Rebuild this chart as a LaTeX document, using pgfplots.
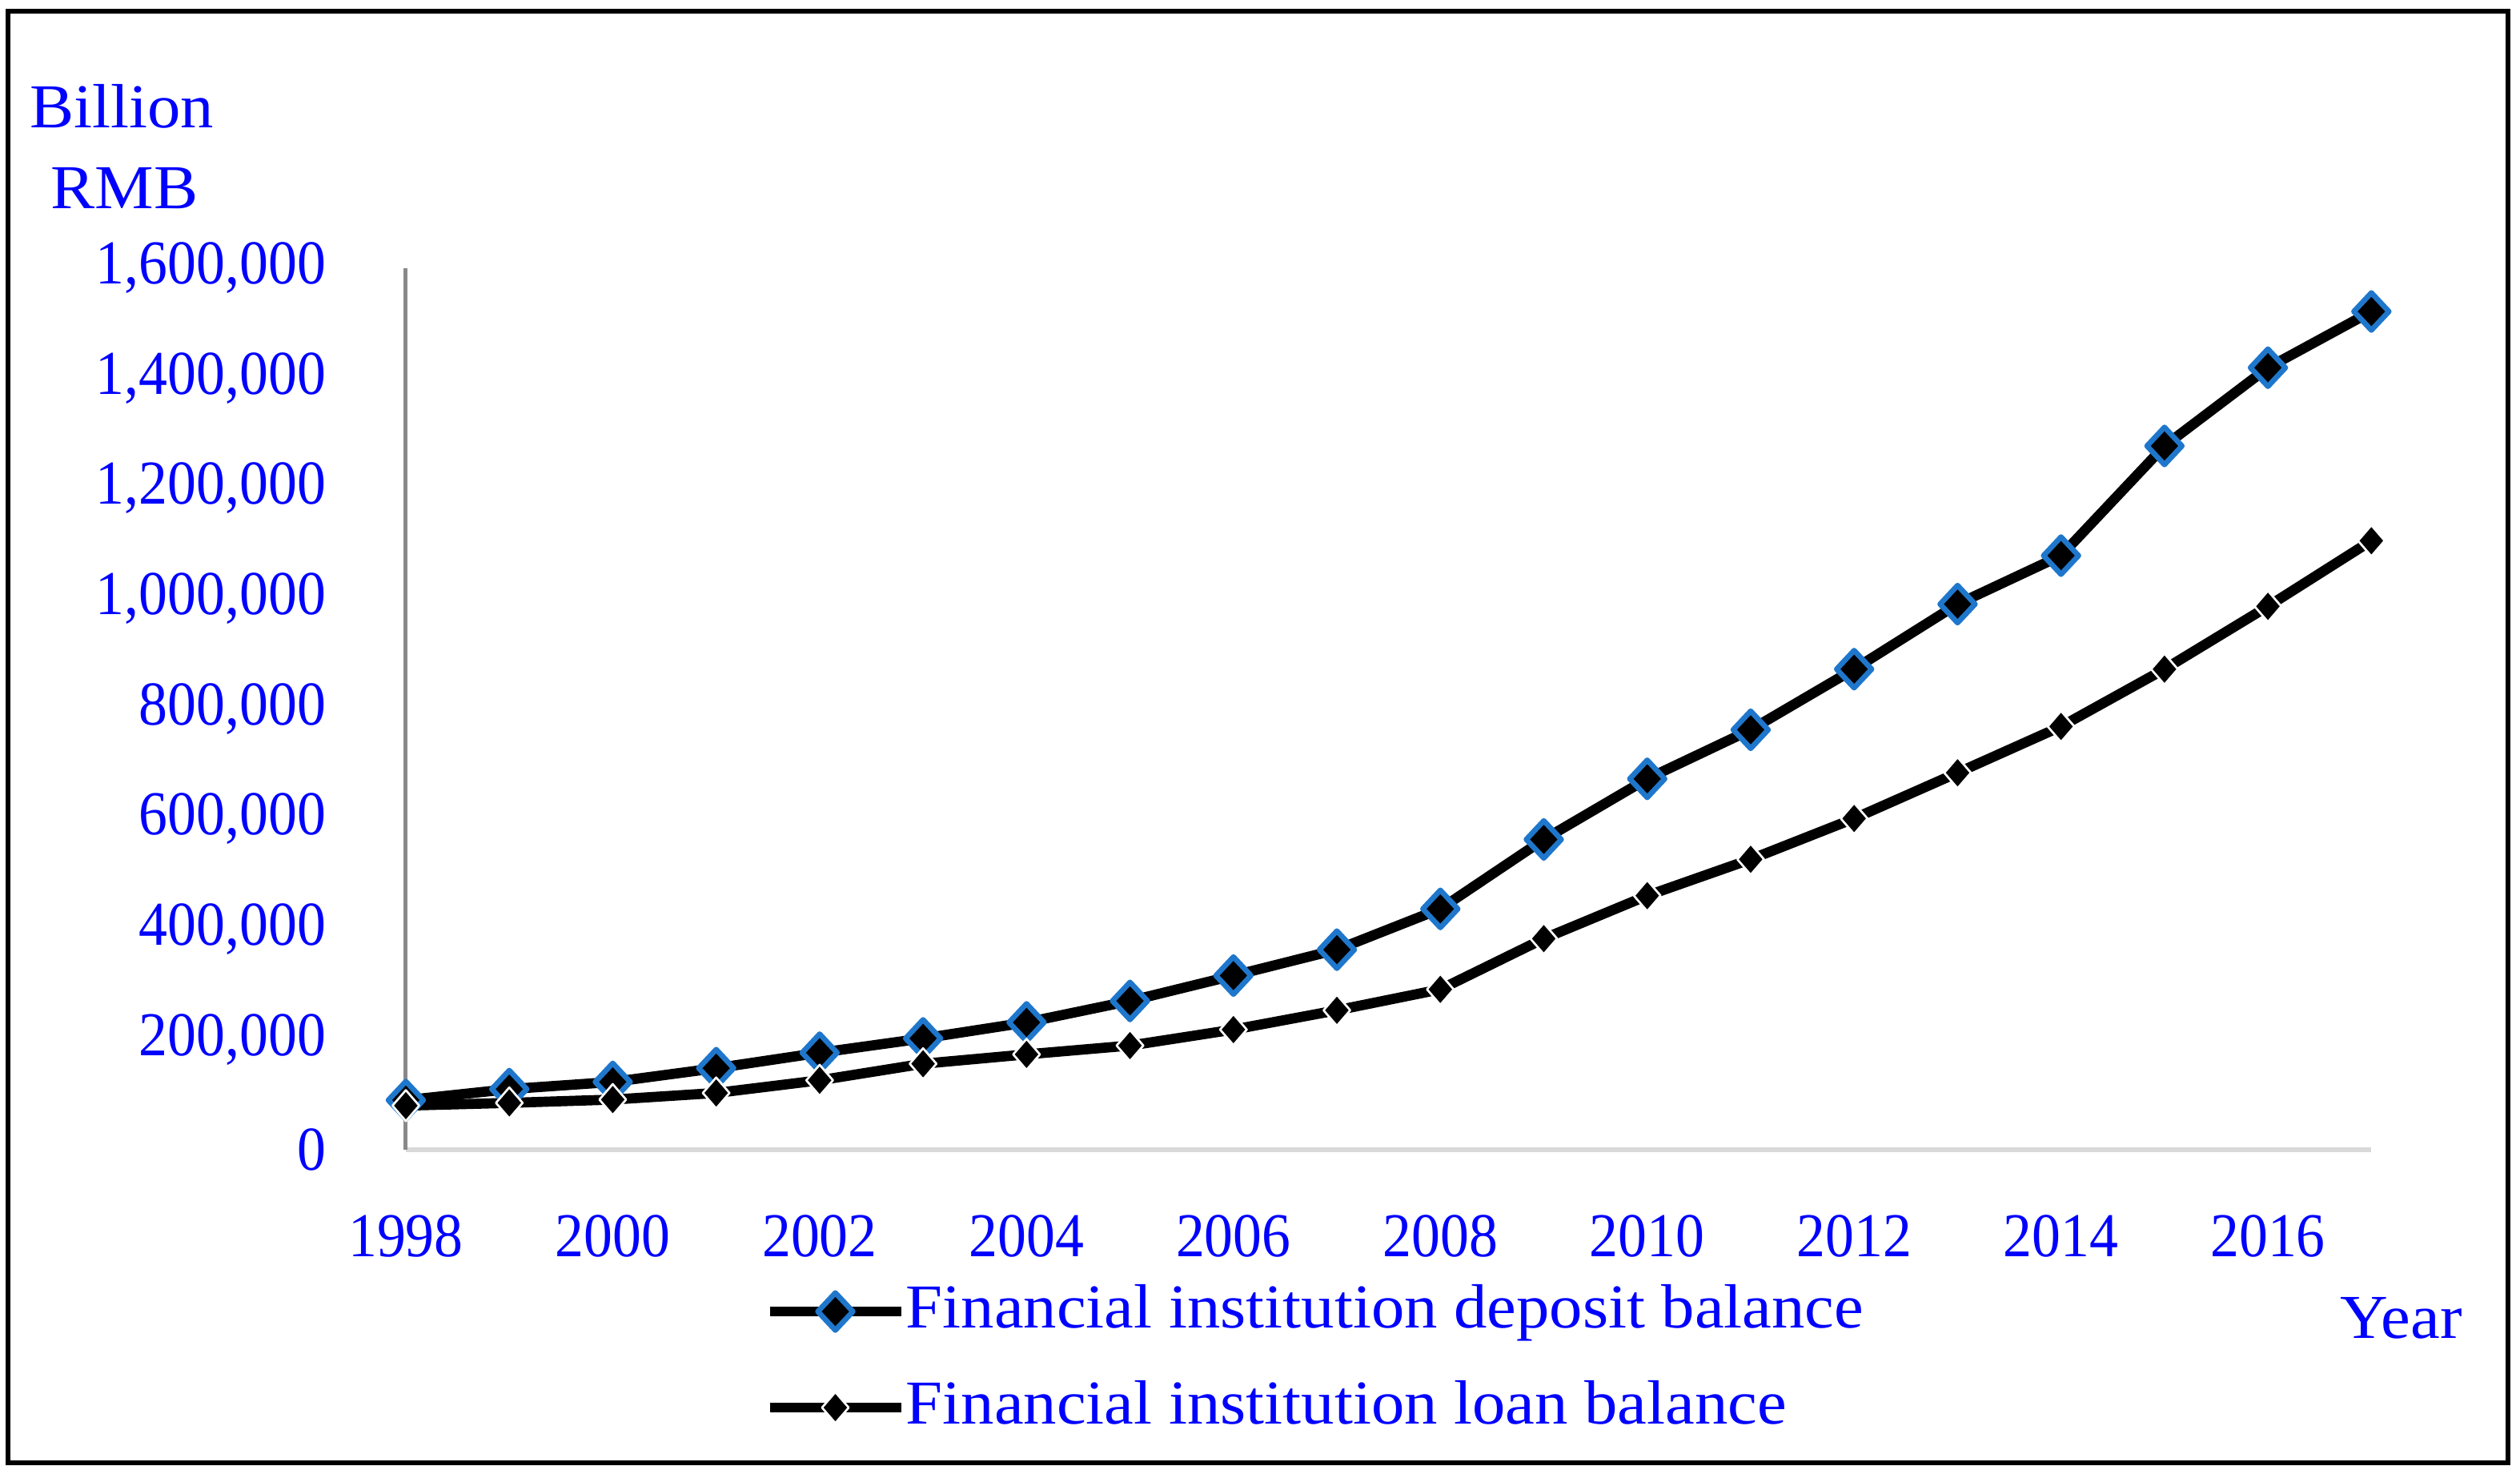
\documentclass[border=0pt]{standalone}
\usepackage{fontspec}
\setmainfont{Liberation Serif}[FakeStretch=0.92]
\newfontfamily\widefont{Liberation Serif}[FakeStretch=1.06]
\usepackage{pgfplots}
\pgfplotsset{compat=1.18}
\definecolor{mkblue}{RGB}{31,119,204}
\definecolor{yaxgray}{RGB}{137,137,137}
\definecolor{xaxgray}{RGB}{217,217,217}
\newcommand\lblfont{\fontsize{11.7pt}{14pt}\selectfont}
\newcommand\txtfont{\widefont\fontsize{11.7pt}{14pt}\selectfont}

\pgfplotstableread{
year deposit loan
1998 90000 80000
1999 110000 85000
2000 123000 91000
2001 148000 103000
2002 176000 126000
2003 202000 156000
2004 231000 173000
2005 270000 189000
2006 316000 218000
2007 363000 253000
2008 437000 291000
2009 563000 383000
2010 673000 461000
2011 762000 527000
2012 872000 601000
2013 990000 684000
2014 1078000 768000
2015 1277000 872000
2016 1419000 986000
2017 1521000 1105000
}\datatable

\begin{document}
\begin{tikzpicture}
\path[use as bounding box] (-76.05pt,-60pt) rectangle (396.15pt,215.4pt);
\draw[line width=0.9pt] (-74.55pt,-58.65pt) rectangle (393.9pt,213.3pt);
\begin{axis}[
  at={(0pt,0pt)}, anchor=south west,
  scale only axis, width=368.3pt, height=165.2pt,
  xmin=1998, xmax=2017, ymin=0, ymax=1600000,
  axis x line=bottom, axis y line=left,
  x axis line style={draw=xaxgray, line width=0.9pt, -},
  y axis line style={draw=yaxgray, line width=0.75pt, -},
  xtick={1998,2000,...,2016},
  ytick={0,200000,400000,600000,800000,1000000,1200000,1400000,1600000},
  major tick length=0pt,
  scaled y ticks=false,
  /pgf/number format/assume math mode=true,
  every tick label/.append style={font=\lblfont, text=blue},
  yticklabel style={anchor=east, inner sep=0pt, xshift=-14.8pt,
     /pgf/number format/fixed, /pgf/number format/1000 sep={,}},
  xticklabel style={anchor=north, inner sep=0pt, yshift=-12pt,
     /pgf/number format/1000 sep={}},
  clip=false,
  legend cell align=left,
  legend image code/.code={\draw[mark repeat=2,mark phase=2] plot coordinates {(0pt,0pt) (12.3pt,0pt) (24.6pt,0pt)};},
  legend style={draw=none, fill=none, at={(0.182,-0.149)}, anchor=north west,
     inner sep=0pt, row sep=7pt, font=\txtfont, text=blue,
     nodes={inner sep=0pt, text height=8.5pt, text depth=2.5pt},
     /tikz/every even column/.append style={column sep=2.4pt}},
]
\addplot[black, line width=1.9pt, line join=round, mark=diamond*, mark size=3.5pt,
  mark options={draw=mkblue, fill=black, line width=1pt, xscale=1.25}]
  table[x=year, y=deposit] {\datatable};
\addlegendentry{Financial institution deposit balance}
\addplot[black, line width=1.9pt, line join=round, mark=diamond*, mark size=2.9pt,
  mark options={draw=white, fill=black, line width=0.4pt, xscale=1.15}]
  table[x=year, y=loan] {\datatable};
\addlegendentry{Financial institution loan balance}
\end{axis}
\node[anchor=base west, inner sep=0pt, text=blue, font=\txtfont] at (-70.65pt,191.4pt) {Billion};
\node[anchor=base west, inner sep=0pt, text=blue, font=\txtfont] at (-66.7pt,176.25pt) {RMB};
\node[anchor=base west, inner sep=0pt, text=blue, font=\txtfont] at (362.25pt,-35.4pt) {Year};
\end{tikzpicture}
\end{document}
